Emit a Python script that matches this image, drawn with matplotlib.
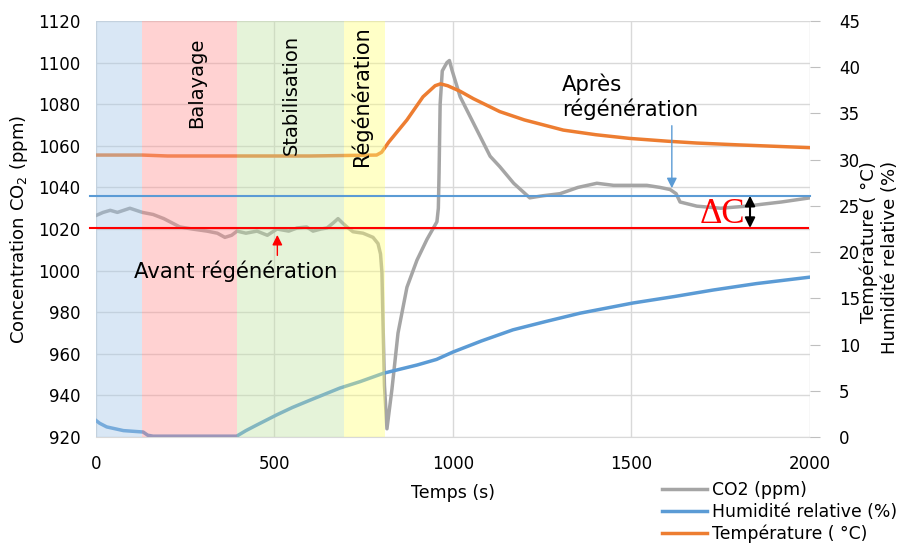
import matplotlib as mpl
import matplotlib.pyplot as plt
import numpy as np

# CO2 concentration (ppm)
co2_t = [0, 20, 40, 60, 95, 130, 160, 190, 235, 270, 311, 340, 361, 380, 395, 420, 451, 480,
         507, 540, 563, 590, 608, 630, 647, 665, 678, 690, 703, 720, 748, 776, 790, 797, 801,
         804, 808, 815, 829, 846, 871, 899, 927, 955, 959, 961, 964, 970, 983, 990, 997, 1020,
         1057, 1104, 1131, 1170, 1215, 1252, 1300, 1350, 1403, 1450, 1500, 1543, 1580, 1608,
         1625, 1636, 1683, 1750, 1823, 1870, 1920, 1960, 2000]
co2_ppm = [1026.5, 1028, 1029, 1028, 1030, 1028, 1027, 1025, 1021, 1020, 1019, 1018, 1016,
           1017, 1019, 1018, 1019, 1017, 1020, 1019, 1020.5, 1021, 1019, 1020, 1020.5, 1023,
           1025, 1023, 1021, 1018.7, 1018, 1016, 1013, 1008, 999, 975, 945, 924, 943, 970, 992,
           1005, 1015, 1023.5, 1030, 1047, 1080, 1096, 1100, 1101, 1096.5, 1083.6, 1071, 1055,
           1050, 1042, 1035, 1036, 1037, 1040, 1042, 1041, 1041, 1041, 1040, 1039, 1037, 1033,
           1031, 1030, 1031, 1032, 1033, 1034, 1035]

# Temperature (deg C)
temp_t = [0, 130, 200, 400, 600, 786, 800, 820, 871, 916, 950, 965, 985, 1020, 1057, 1131,
          1200, 1309, 1400, 1495, 1600, 1683, 1800, 1900, 2000]
temp_c = [30.5, 30.5, 30.4, 30.4, 30.4, 30.5, 30.8, 31.9, 34.3, 36.8, 38.0, 38.2, 38.0, 37.4,
          36.6, 35.2, 34.3, 33.2, 32.7, 32.3, 32.0, 31.8, 31.6, 31.45, 31.3]

# Relative humidity (%)
rh_t = [0, 10, 30, 77, 132, 145, 160, 394, 420, 450, 506, 550, 600, 683, 740, 805, 900, 954,
        1000, 1080, 1168, 1260, 1356, 1504, 1620, 1728, 1850, 2000]
rh_pct = [1.8, 1.5, 1.1, 0.7, 0.55, 0.2, 0.1, 0.1, 0.7, 1.3, 2.4, 3.2, 4.0, 5.3, 6.0, 6.9, 7.8,
          8.4, 9.2, 10.4, 11.6, 12.5, 13.4, 14.5, 15.2, 15.9, 16.6, 17.3]

# Phases of the test
phase_names = ["", "Balayage", "Stabilisation", "Régénération"]
phase_bounds = [(0, 130), (130, 395), (395, 695), (695, 810)]
phase_colors = ["#A2C5E6", "#FF8F8F", "#C0E1A2", "#FFFF75"]
phase_label_x = [0, 283, 546, 742]
phase_label_y = [0, 1090.5, 1084.5, 1084]
phase_label_size = [14, 14, 14, 15]

# Reference levels before / after regeneration (ppm)
co2_before = 1020.5
co2_after = 1036

plt.rcParams['font.family'] = ['DejaVu Sans']
plt.rcParams['mathtext.default'] = 'regular'

fig, ax = plt.subplots(figsize=(9.03, 5.45), dpi=100)
fig.subplots_adjust(left=0.1063, right=0.897, top=0.9615, bottom=0.198)
ax2 = ax.twinx()

grid_c = "#D9D9D9"

# CO2 on the left axis
l_co2, = ax.plot(co2_t, co2_ppm, color="#A5A5A5", lw=2.5, zorder=3)
ax.set_xlim(0, 2000)
ax.set_ylim(920, 1120)
ax.set_yticks(np.arange(920, 1121, 20))
ax.set_xticks([0, 500, 1000, 1500, 2000])
ax.grid(True, color=grid_c, lw=1)
ax.set_axisbelow(True)

# Temperature and humidity on the right axis
l_rh, = ax2.plot(rh_t, rh_pct, color="#5B9BD5", lw=2.5, zorder=2)
l_temp, = ax2.plot(temp_t, temp_c, color="#ED7D31", lw=2.5, zorder=2)
ax2.set_ylim(0, 45)
ax2.set_yticks(np.arange(0, 46, 5))

# Shaded phases, drawn over the curves
for (t0, t1), c in zip(phase_bounds, phase_colors):
  ax2.axvspan(t0, t1, color=c, alpha=0.4, lw=0, zorder=4)

for name, lx, ly, fs in zip(phase_names, phase_label_x, phase_label_y, phase_label_size):
  if name:
    ax2.text(lx, ly, name, transform=ax.transData, rotation=90,
             ha="center", va="center", fontsize=fs, zorder=6)

# Before / after reference lines
ax2.plot([-17, 2000], [co2_after, co2_after], transform=ax.transData,
         color="#5B9BD5", lw=1.5, clip_on=False, zorder=5)
ax2.plot([-17, 1994], [co2_before, co2_before], transform=ax.transData,
         color="#FF0000", lw=1.5, clip_on=False, zorder=5)

ax2.annotate("", xy=(508, 1018.5), xytext=(508, 1006), xycoords=ax.transData,
             textcoords=ax.transData,
             arrowprops=dict(arrowstyle="-|>", color="#FF0000", lw=1, mutation_scale=15),
             zorder=6)
ax2.text(391, 999.5, "Avant régénération", transform=ax.transData, ha="center",
         va="center", fontsize=15.3, zorder=6)

ax2.annotate("", xy=(1613, 1038.3), xytext=(1613, 1071), xycoords=ax.transData,
             textcoords=ax.transData,
             arrowprops=dict(arrowstyle="-|>", color="#5B9BD5", lw=1, mutation_scale=15),
             zorder=6)
ax2.text(1305, 1083.5, "Après\nrégénération", transform=ax.transData, ha="left",
         va="center", fontsize=15.3, linespacing=1.2, zorder=6)

# Delta C between the two levels
ax2.annotate("", xy=(1832, co2_before), xytext=(1832, co2_after), xycoords=ax.transData,
             textcoords=ax.transData,
             arrowprops=dict(arrowstyle="<|-|>", color="black", lw=1.5, mutation_scale=15,
                             shrinkA=0, shrinkB=0),
             zorder=6)
ax2.text(1755, 1027, "ΔC", transform=ax.transData, ha="center", va="center",
         fontsize=25, color="#FF0000", family="Liberation Serif", zorder=6)

# Axes styling
for s in ["top", "left", "right"]:
  ax.spines[s].set_visible(False)
  ax2.spines[s].set_visible(False)
ax.spines["bottom"].set_color(grid_c)
ax2.spines["bottom"].set_visible(False)
ax.tick_params(axis="y", length=0, labelsize=12, pad=11)
ax.tick_params(axis="x", length=0, labelsize=12, pad=13)
ax2.tick_params(axis="y", length=7, color="#BFBFBF", labelsize=12, pad=14)

ax.set_xlabel("Temps (s)", fontsize=12.5, labelpad=8)
ax.set_ylabel("Concentration CO$_2$ (ppm)", fontsize=13, labelpad=6)
fig.text(0.974, 0.527, "Température ( °C)\nHumidité relative (%)", rotation=90,
         ha="center", va="center", fontsize=13, multialignment="right")

fig.legend([l_co2, l_rh, l_temp],
           ["CO2 (ppm)", "Humidité relative (%)", "Température ( °C)"],
           loc="upper left", bbox_to_anchor=(0.733, 0.117), frameon=False, fontsize=12.4,
           handlelength=2.6, handletextpad=0.3, labelspacing=0.2, borderpad=0,
           borderaxespad=0)

fig.savefig("out.png", dpi=100)
